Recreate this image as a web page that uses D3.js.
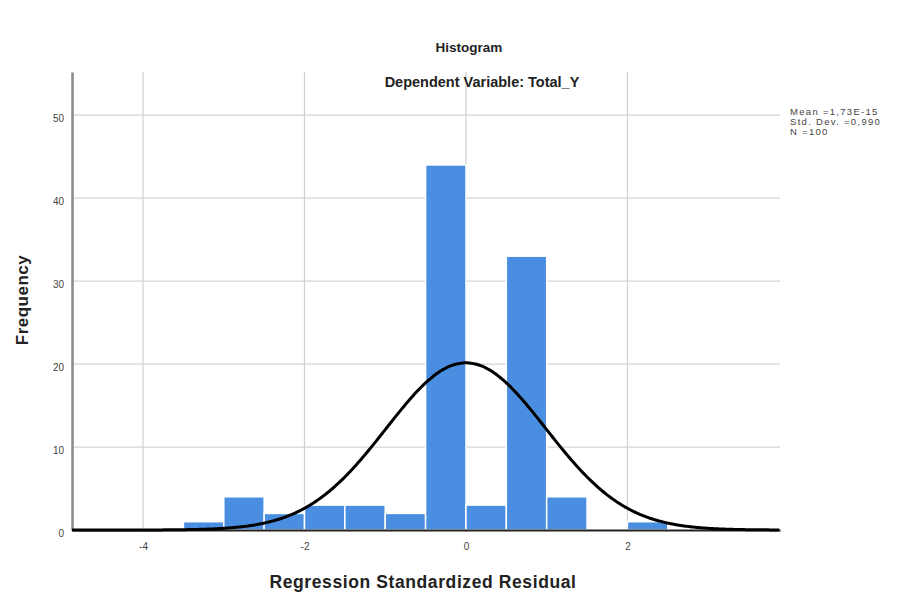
<!DOCTYPE html>
<html>
<head>
<meta charset="utf-8">
<script src="https://cdn.jsdelivr.net/npm/d3@7"></script>
<style>
    body { margin: 0; background: #fff; }
    text { font-family: "Liberation Sans", Arial, sans-serif; }
</style>
</head>
<body>
<div id="chart"></div>
<script>

// histogram bins (lower edge, width 0.5) and counts
var binStarts = [-3.5, -3, -2.5, -2, -1.5, -1, -0.5, 0, 0.5, 1, 1.5, 2];
var counts = [1, 4, 2, 3, 3, 2, 44, 3, 33, 4, 0, 1];
var binWidth = 0.5;

// summary stats
var mean = 1.73e-15, stdDev = 0.990, n = 100;
var statLines = ["Mean =1,73E-15", "Std. Dev. =0,990", "N =100"];

var xTicks = [-4, -2, 0, 2];
var yTicks = [0, 10, 20, 30, 40, 50];

var width = 901, height = 598;

var svg = d3.select("#chart")
    .append("svg")
    .attr("width", width)
    .attr("height", height);

// plot region in px
var plotLeft = 72, plotRight = 780, plotTop = 72, plotBottom = 530;

var x = d3.scaleLinear().domain([-4.88, 3.89]).range([plotLeft, plotRight]);
var y = d3.scaleLinear().domain([0, 55.2]).range([plotBottom, plotTop]);

// grid lines
svg.append("g")
    .selectAll("line.hgrid")
    .data(yTicks.filter(function(d) { return d > 0; }))
    .enter().append("line")
    .attr("class", "hgrid")
    .attr("x1", plotLeft).attr("x2", plotRight)
    .attr("y1", function(d) { return y(d); })
    .attr("y2", function(d) { return y(d); })
    .attr("stroke", "#d4d4d4")
    .attr("stroke-width", 1.2);

svg.append("g")
    .selectAll("line.vgrid")
    .data(xTicks)
    .enter().append("line")
    .attr("class", "vgrid")
    .attr("x1", function(d) { return x(d); })
    .attr("x2", function(d) { return x(d); })
    .attr("y1", plotTop).attr("y2", plotBottom)
    .attr("stroke", "#cfcfcf")
    .attr("stroke-width", 1.2);

// bars
svg.append("g")
    .selectAll("rect")
    .data(binStarts)
    .enter().append("rect")
    .attr("x", function(d) { return x(d); })
    .attr("width", function(d) { return x(d + binWidth) - x(d); })
    .attr("y", function(d, i) { return y(counts[i]); })
    .attr("height", function(d, i) { return plotBottom - y(counts[i]); })
    .attr("fill", "#4a8ee1")
    .attr("stroke", "#ffffff")
    .attr("stroke-width", 1.5);

// axes
var xAxis = d3.axisBottom(x).tickValues(xTicks).tickSize(0).tickPadding(13)
    .tickFormat(function(d) { return String(d); });
var yAxis = d3.axisLeft(y).tickValues(yTicks).tickSize(0).tickPadding(8)
    .tickFormat(function(d) { return String(d); });

var gx = svg.append("g")
    .attr("transform", "translate(0," + plotBottom + ")")
    .call(xAxis);
gx.select(".domain").attr("stroke", "#222").attr("stroke-width", 2);

var gy = svg.append("g")
    .attr("transform", "translate(" + plotLeft + ",0)")
    .call(yAxis);
gy.select(".domain").attr("stroke", "#8a8a8a").attr("stroke-width", 2.5);
gy.selectAll(".tick text").attr("dy", "0.6em");

svg.selectAll(".tick text")
    .attr("fill", "#444")
    .style("font-size", "10px");

// normal curve scaled to counts
var curveData = d3.range(-4.88, 3.9, 0.02).map(function(v) {
    var z = (v - mean) / stdDev;
    var f = n * binWidth * Math.exp(-0.5 * z * z) / (stdDev * Math.sqrt(2 * Math.PI));
    return [v, f];
});
var line = d3.line()
    .x(function(d) { return x(d[0]); })
    .y(function(d) { return y(d[1]); })
    .curve(d3.curveBasis);
svg.append("path")
    .datum(curveData)
    .attr("d", line)
    .attr("fill", "none")
    .attr("stroke", "#000")
    .attr("stroke-width", 3);

// titles
svg.append("text")
    .attr("x", 469).attr("y", 52)
    .attr("text-anchor", "middle")
    .style("font-size", "13.5px").style("font-weight", "bold")
    .attr("fill", "#222")
    .text("Histogram");

svg.append("text")
    .attr("x", 482).attr("y", 87)
    .attr("text-anchor", "middle")
    .style("font-size", "14.5px").style("font-weight", "bold")
    .attr("fill", "#222")
    .text("Dependent Variable: Total_Y");

svg.append("text")
    .attr("x", 423).attr("y", 588)
    .attr("text-anchor", "middle")
    .style("font-size", "17.5px").style("font-weight", "bold")
    .style("letter-spacing", "0.6px")
    .attr("fill", "#222")
    .text("Regression Standardized Residual");

svg.append("text")
    .attr("transform", "translate(28," + 300 + ") rotate(-90)")
    .attr("text-anchor", "middle")
    .style("font-size", "17px").style("font-weight", "bold")
    .style("letter-spacing", "0.5px")
    .attr("fill", "#222")
    .text("Frequency");

// stats box
svg.append("g")
    .selectAll("text")
    .data(statLines)
    .enter().append("text")
    .attr("x", 790)
    .attr("y", function(d, i) { return 115 + i * 10; })
    .style("font-size", "9.5px")
    .style("letter-spacing", "1.3px")
    .attr("fill", "#444")
    .text(function(d) { return d; });

</script>
</body>
</html>
